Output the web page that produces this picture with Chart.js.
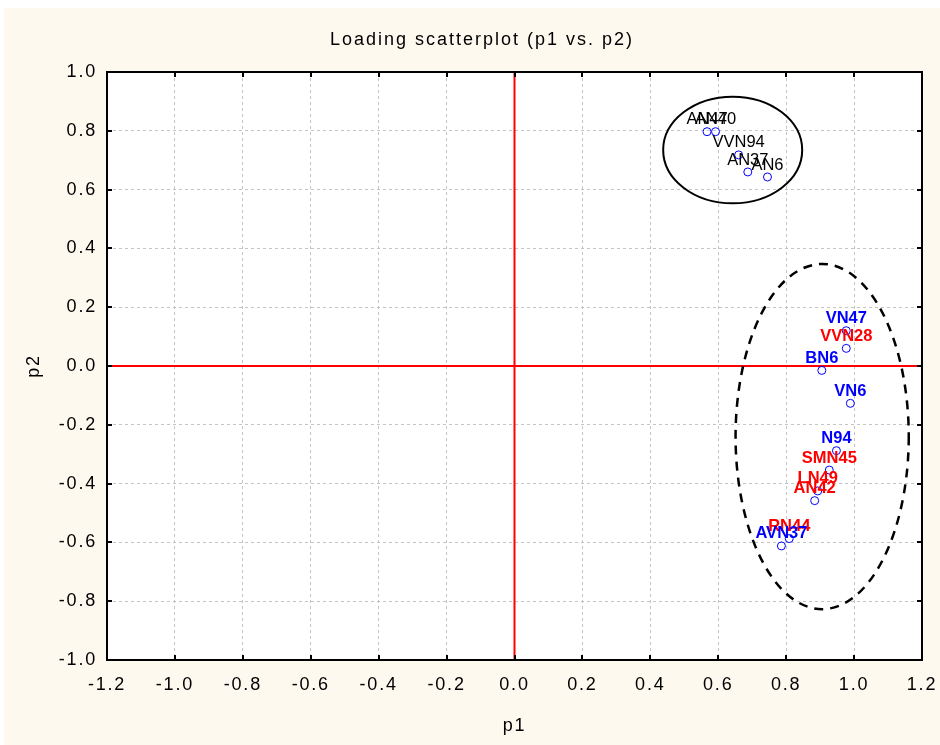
<!DOCTYPE html>
<html>
<head>
<meta charset="utf-8">
<script src="https://cdn.jsdelivr.net/npm/chart.js@4.4.1/dist/chart.umd.min.js"></script>
<style>
html,body{margin:0;padding:0;background:#fff}
canvas{display:block}
</style>
</head>
<body>
<canvas id="c" width="940" height="745"></canvas>
<script>
/* ===== loadings p1 / p2 ===== */
const names=['AN47','AN40','VVN94','AN37','AN6','VN47','VVN28','BN6','VN6','N94','SMN45','LN49','AN42','RN44','AVN37'];
const p1=[0.567,0.592,0.660,0.687,0.745,0.977,0.977,0.905,0.989,0.948,0.927,0.893,0.884,0.809,0.786];
const p2=[0.797,0.797,0.718,0.660,0.643,0.120,0.060,-0.015,-0.127,-0.288,-0.354,-0.425,-0.458,-0.587,-0.612];
const labelColors=['#000','#000','#000','#000','#000','#0000ff','#ff0000','#0000ff','#0000ff','#0000ff','#ff0000','#ff0000','#ff0000','#ff0000','#0000ff'];
const xTicks=[-1.2,-1.0,-0.8,-0.6,-0.4,-0.2,0.0,0.2,0.4,0.6,0.8,1.0,1.2];
const yTicks=[-1.0,-0.8,-0.6,-0.4,-0.2,0.0,0.2,0.4,0.6,0.8,1.0];

// group outlines (centre / radii in loading units)
const ellCx=[0.6425,0.906];
const ellCy=[0.7347,-0.240];
const ellRx=[0.2047,0.255];
const ellRy=[0.1814,0.587];

const TITLE='Loading scatterplot (p1 vs. p2)';
const FONT='"Liberation Sans", Arial, sans-serif';
const PAD_L=23,PAD_B=8;

const decor={
  id:'decor',
  // wide STATISTICA-style lettering for axes text
  beforeLayout(chart){chart.ctx.letterSpacing='1.8px';},
  beforeDraw(chart){
    const {ctx,chartArea:a}=chart;
    ctx.letterSpacing='1.8px';
    ctx.save();
    ctx.fillStyle='#fff';ctx.fillRect(0,0,chart.width,chart.height);
    ctx.fillStyle='#fdf9ef';ctx.fillRect(4,8,chart.width-4,chart.height-8);
    ctx.fillStyle='#fff';ctx.fillRect(a.left,a.top,a.right-a.left,a.bottom-a.top);
    ctx.fillStyle='#000';ctx.font='18px '+FONT;ctx.letterSpacing='2px';
    ctx.textAlign='center';ctx.textBaseline='middle';
    ctx.fillText(TITLE,482,40);
    ctx.restore();
  },
  beforeDatasetsDraw(chart){
    const {ctx,chartArea:a,scales:{x,y}}=chart;
    ctx.save();
    // zero lines
    ctx.strokeStyle='#ff0000';ctx.lineWidth=2;
    ctx.beginPath();
    const x0=x.getPixelForValue(0),y0=y.getPixelForValue(0);
    ctx.moveTo(x0,a.top);ctx.lineTo(x0,a.bottom);
    ctx.moveTo(a.left,y0);ctx.lineTo(a.right,y0);
    ctx.stroke();
    // group ellipses
    ctx.strokeStyle='#000';
    ellCx.forEach((cx,i)=>{
      const px=x.getPixelForValue(cx),py=y.getPixelForValue(ellCy[i]);
      const rx=Math.abs(x.getPixelForValue(cx+ellRx[i])-px);
      const ry=Math.abs(y.getPixelForValue(ellCy[i]+ellRy[i])-py);
      ctx.lineWidth=i===0?2:2.5;
      ctx.setLineDash(i===0?[]:[9,7]);
      ctx.beginPath();ctx.ellipse(px,py,rx,ry,0,0,Math.PI*2);ctx.stroke();
    });
    ctx.restore();
  },
  afterDatasetsDraw(chart){
    const {ctx}=chart;
    const meta=chart.getDatasetMeta(0);
    ctx.save();
    ctx.letterSpacing='0px';
    ctx.textAlign='center';ctx.textBaseline='middle';
    meta.data.forEach((pt,i)=>{
      const black=labelColors[i]==='#000';
      ctx.font=(black?'':'bold ')+'16.5px '+FONT;
      ctx.fillStyle=labelColors[i];
      ctx.fillText(names[i],pt.x,pt.y-12);
    });
    ctx.restore();
  },
  afterDraw(chart){
    const {ctx,chartArea:a,scales:{x,y}}=chart;
    ctx.save();
    ctx.strokeStyle='#000';ctx.lineWidth=2;
    ctx.strokeRect(a.left,a.top,a.right-a.left,a.bottom-a.top);
    // inward tick marks on all four sides
    ctx.beginPath();
    xTicks.forEach(v=>{
      const px=Math.round(x.getPixelForValue(v));
      ctx.moveTo(px,a.bottom);ctx.lineTo(px,a.bottom-5);
      ctx.moveTo(px,a.top);ctx.lineTo(px,a.top+5);
    });
    yTicks.forEach(v=>{
      const py=Math.round(y.getPixelForValue(v));
      ctx.moveTo(a.left,py);ctx.lineTo(a.left+5,py);
      ctx.moveTo(a.right,py);ctx.lineTo(a.right-5,py);
    });
    ctx.stroke();
    ctx.restore();
  }
};

const gridOpts={color:'#c4c4c4',lineWidth:1,drawTicks:false};

new Chart(document.getElementById('c'),{
  type:'scatter',
  data:{datasets:[{
    data:p1.map((v,i)=>({x:v,y:p2[i]})),
    pointStyle:'circle',pointRadius:4,pointHoverRadius:4,
    borderColor:'#0000ff',backgroundColor:'rgba(255,255,255,0)',borderWidth:1
  }]},
  options:{
    responsive:false,animation:false,
    layout:{padding:{left:PAD_L,right:18,top:72,bottom:PAD_B}},
    plugins:{legend:{display:false},tooltip:{enabled:false},title:{display:false}},
    scales:{
      x:{
        type:'linear',min:-1.2,max:1.2,
        afterBuildTicks:s=>{s.ticks=xTicks.map(v=>({value:v}));},
        afterFit:s=>{s.height=745-660-PAD_B;s.paddingLeft=0;s.paddingRight=0;},
        ticks:{color:'#000',font:{family:FONT,size:18},padding:14,callback:v=>v.toFixed(1)},
        grid:gridOpts,border:{display:false,dash:[3,3]},
        title:{display:true,text:'p1',color:'#000',font:{family:FONT,size:18},padding:0}
      },
      y:{
        type:'linear',min:-1,max:1,
        afterBuildTicks:s=>{s.ticks=yTicks.map(v=>({value:v}));},
        afterFit:s=>{s.width=107-PAD_L;s.paddingTop=0;s.paddingBottom=0;},
        ticks:{color:'#000',font:{family:FONT,size:18},padding:10,callback:v=>v.toFixed(1)},
        grid:gridOpts,border:{display:false,dash:[3,3]},
        title:{display:true,text:'p2',color:'#000',font:{family:FONT,size:18},padding:0}
      }
    }
  },
  plugins:[decor]
});
</script>
</body>
</html>
